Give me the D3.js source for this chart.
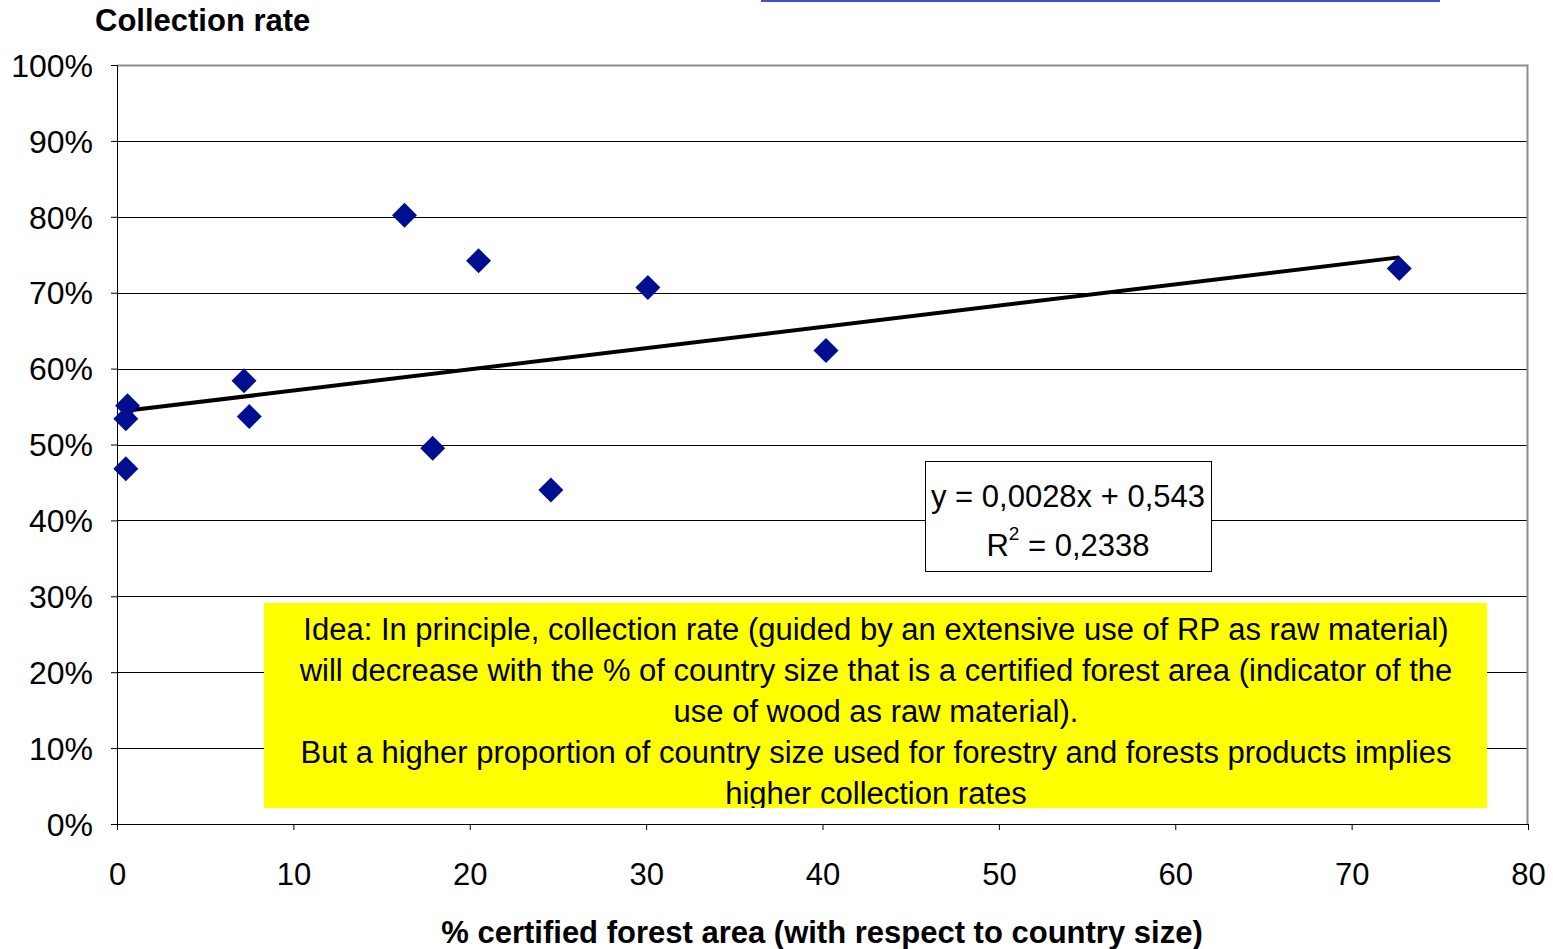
<!DOCTYPE html>
<html><head><meta charset="utf-8">
<script src="https://cdn.jsdelivr.net/npm/d3@7"></script>
<style>body{margin:0;background:#fff;}svg{display:block;font-family:"Liberation Sans",Arial,sans-serif;}</style>
</head><body>
<svg id="c" width="1553" height="949"></svg>
<script>
const certifiedArea = [0.5, 0.6, 0.5, 7.2, 7.5, 16.3, 20.5, 17.9, 24.6, 30.1, 40.2, 72.7];
const collectionRate = [0.468, 0.551, 0.534, 0.584, 0.537, 0.802, 0.742, 0.495, 0.44, 0.707, 0.624, 0.732];
const xTicks = [0, 10, 20, 30, 40, 50, 60, 70, 80];
const yTicks = [0, 0.1, 0.2, 0.3, 0.4, 0.5, 0.6, 0.7, 0.8, 0.9, 1.0];
const slope = 0.0028, intercept = 0.543;
const eqLines = ["y = 0,0028x + 0,543", "R² = 0,2338"];
const noteLines = [
  "Idea: In principle, collection rate (guided by an extensive use of RP as raw material)",
  "will decrease with the % of country size that is a certified forest area (indicator of the",
  "use of wood as raw material).",
  "But a higher proportion of country size used for forestry and forests products implies",
  "higher collection rates"
];

const svg = d3.select("#c");
const L = 117, R = 1528, T = 65, B = 824;
const x = d3.scaleLinear().domain([0, 80]).range([L, R]);
const y = d3.scaleLinear().domain([0, 1]).range([B, T]);
const FONT = "Liberation Sans, Arial, sans-serif";

// blue line at top
svg.append("rect").attr("x", 761).attr("y", 0).attr("width", 679).attr("height", 2).attr("fill", "#4a4ac8");

// gridlines
svg.append("g").selectAll("line").data(yTicks.filter(d => d > 0 && d < 1)).join("line")
  .attr("x1", L).attr("x2", R).attr("y1", d => Math.round(y(d)) + 0.5).attr("y2", d => Math.round(y(d)) + 0.5)
  .attr("stroke", "#000").attr("stroke-width", 1);
// plot border top/right gray
svg.append("path").attr("d", `M${L},${T+0.5}H${R-0.5}V${B}`).attr("fill", "none").attr("stroke", "#8c8c8c").attr("stroke-width", 2);

// axes
const yAxis = d3.axisLeft(y).tickValues(yTicks).tickFormat(d3.format(".0%")).tickSize(6).tickSizeOuter(0);
const gy = svg.append("g").attr("transform", `translate(${L},0)`).call(yAxis);
gy.select(".domain").attr("stroke", "#000");
gy.selectAll(".tick line").attr("stroke", "#000");
gy.selectAll(".tick text").attr("font-size", 32).attr("fill", "#000").attr("x", -24).attr("dy", "0.35em").attr("font-family", FONT);

const xAxis = d3.axisBottom(x).tickValues(xTicks).tickFormat(d3.format("d")).tickSize(6).tickSizeOuter(0);
const gx = svg.append("g").attr("transform", `translate(0,${B})`).call(xAxis);
gx.select(".domain").attr("stroke", "#000");
gx.selectAll(".tick line").attr("stroke", "#000");
gx.selectAll(".tick text").attr("font-size", 31).attr("fill", "#000").attr("y", 61).attr("dy", "0").attr("font-family", FONT);

// trend line
const xmin = d3.min(certifiedArea), xmax = d3.max(certifiedArea);
svg.append("line").attr("x1", x(xmin)).attr("x2", x(xmax))
  .attr("y1", y(slope * xmin + intercept)).attr("y2", y(slope * xmax + intercept))
  .attr("stroke", "#000").attr("stroke-width", 4);

// points
const s = 12.5;
svg.append("g").selectAll("path").data(certifiedArea.map((d, i) => [d, collectionRate[i]])).join("path")
  .attr("d", d => { const cx = x(d[0]), cy = y(d[1]); return `M${cx},${cy-s}L${cx+s},${cy}L${cx},${cy+s}L${cx-s},${cy}Z`; })
  .attr("fill", "#000f8f");

// equation box
svg.append("rect").attr("x", 925.5).attr("y", 461.5).attr("width", 286).attr("height", 110)
  .attr("fill", "#fff").attr("stroke", "#000").attr("stroke-width", 1);
svg.append("text").attr("x", 1068).attr("y", 507).attr("text-anchor", "middle").attr("font-size", 31).text(eqLines[0]);
const r2 = svg.append("text").attr("x", 1068).attr("y", 556).attr("text-anchor", "middle").attr("font-size", 31);
r2.append("tspan").text("R");
r2.append("tspan").attr("font-size", 19).attr("dy", -16).text("2");
r2.append("tspan").attr("dy", 16).text(" = 0,2338");

// note box
svg.append("defs").append("clipPath").attr("id", "nclip").append("rect").attr("x", 264).attr("y", 603).attr("width", 1223).attr("height", 205);
svg.append("rect").attr("x", 264).attr("y", 603).attr("width", 1223).attr("height", 205).attr("fill", "#ffff00");
svg.append("g").attr("clip-path", "url(#nclip)").selectAll("text").data(noteLines).join("text")
  .attr("x", 876).attr("y", (d, i) => 640 + i * 41).attr("text-anchor", "middle").attr("font-size", 31).attr("fill", "#000").text(d => d);

// titles
svg.append("text").attr("x", 95).attr("y", 31).attr("font-size", 31).attr("font-weight", "bold").text("Collection rate");
svg.append("text").attr("x", 822).attr("y", 943).attr("text-anchor", "middle").attr("font-size", 31).attr("font-weight", "bold")
  .text("% certified forest area (with respect to country size)");
</script>
</body></html>
